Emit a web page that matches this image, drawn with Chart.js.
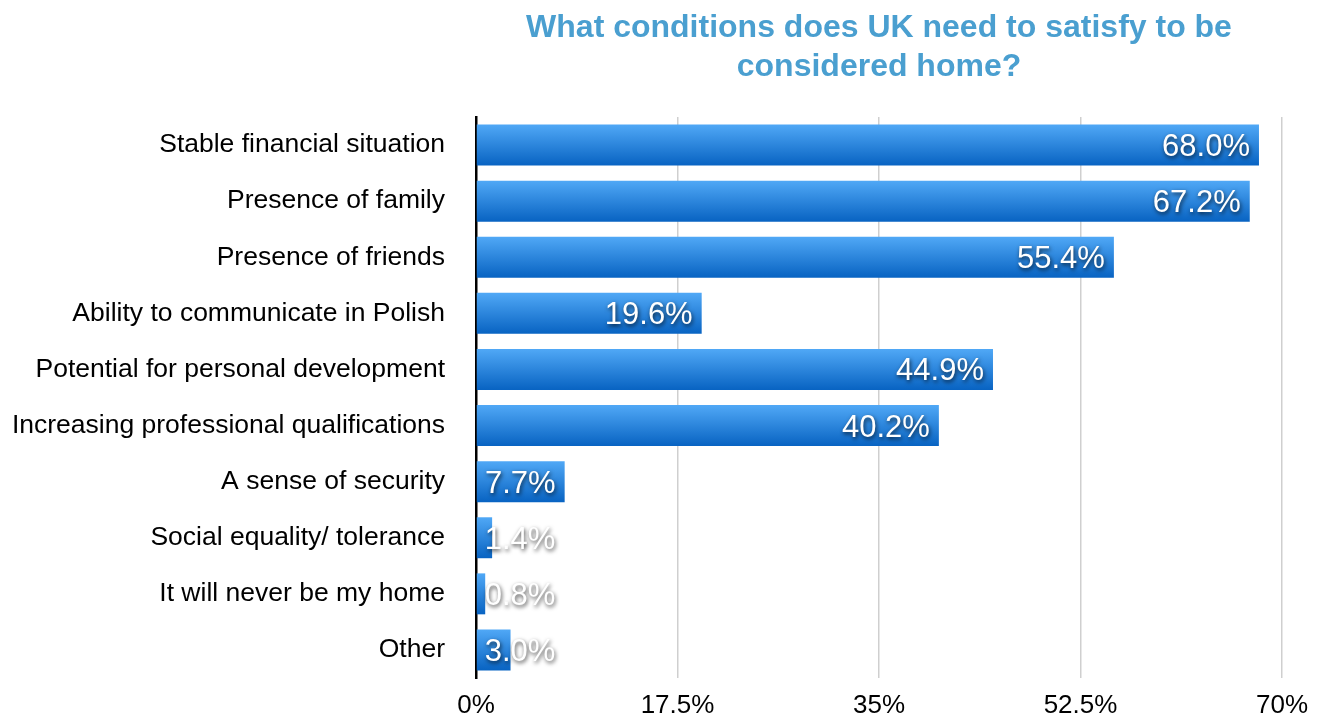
<!DOCTYPE html>
<html>
<head>
<meta charset="utf-8">
<title>UK as home</title>
<script src="https://cdn.jsdelivr.net/npm/chart.js@4/dist/chart.umd.min.js"></script>
<style>
  html, body { margin: 0; padding: 0; background: #fff; }
  #wrap { width: 1324px; height: 717px; }
</style>
</head>
<body>
<div id="wrap"><canvas id="myChart" width="1324" height="717"></canvas></div>
<script>
var categories = [
  'Stable financial situation',
  'Presence of family',
  'Presence of friends',
  'Ability to communicate in Polish',
  'Potential for personal development',
  'Increasing professional qualifications',
  'A sense of security',
  'Social equality/ tolerance',
  'It will never be my home',
  'Other'
];
var shares = [68.0, 67.2, 55.4, 19.6, 44.9, 40.2, 7.7, 1.4, 0.8, 3.0];
var axisMax = 70;
var axisStep = 17.5;
var titleLines = ['What conditions does UK need to satisfy to be', 'considered home?'];

var FONT = '"Liberation Sans", Arial, Helvetica, sans-serif';
var barPct = 0.73;

// vertical blue gradient for every bar, built from the bar's own band
function barFill(c) {
  var chart = c.chart;
  var y = chart.scales.y;
  if (!chart.chartArea || !y || c.dataIndex === undefined) return '#2a84dc';
  var mid = y.getPixelForValue(c.dataIndex);
  var half = (y.height / categories.length) * barPct / 2;
  var g = chart.ctx.createLinearGradient(0, mid - half, 0, mid + half);
  g.addColorStop(0, '#50a8f6');
  g.addColorStop(1, '#0863c2');
  return g;
}

// title centred over the plot area
var titlePlugin = {
  id: 'plotTitle',
  afterDraw: function(chart) {
    var ctx = chart.ctx, a = chart.chartArea;
    var cx = (a.left + a.right) / 2;
    ctx.save();
    ctx.font = 'bold 32px ' + FONT;
    ctx.fillStyle = '#4a9fd0';
    ctx.textAlign = 'center';
    ctx.textBaseline = 'middle';
    ctx.fillText(titleLines[0], cx, 28);
    ctx.fillText(titleLines[1], cx, 67);
    ctx.restore();
  }
};

// white percentage labels with a dark drop shadow
var valueLabels = {
  id: 'valueLabels',
  afterDatasetsDraw: function(chart) {
    var ctx = chart.ctx;
    var meta = chart.getDatasetMeta(0);
    ctx.save();
    ctx.font = '31px ' + FONT;
    ctx.fillStyle = '#fff';
    ctx.shadowColor = 'rgba(0,0,0,0.75)';
    ctx.shadowBlur = 4;
    ctx.shadowOffsetX = 1;
    ctx.shadowOffsetY = 2;
    ctx.textBaseline = 'alphabetic';
    meta.data.forEach(function(bar, i) {
      var txt = shares[i].toFixed(1) + '%';
      var w = ctx.measureText(txt).width;
      var base = bar.y + 11;
      if (bar.x - bar.base - 9 >= w + 7) {
        ctx.textAlign = 'right';
        ctx.fillText(txt, bar.x - 9, base);
      } else {
        ctx.textAlign = 'left';
        ctx.fillText(txt, bar.base + 8, base);
      }
    });
    ctx.restore();
  }
};

var myChart = document.getElementById('myChart').getContext('2d');

var chart = new Chart(myChart, {
  type: 'bar',
  data: {
    labels: categories,
    datasets: [{
      data: shares,
      backgroundColor: barFill,
      borderWidth: 0,
      categoryPercentage: 1,
      barPercentage: barPct
    }]
  },
  options: {
    indexAxis: 'y',
    responsive: false,
    animation: false,
    layout: { padding: { top: 117, right: 42, bottom: 0, left: 0 } },
    plugins: {
      legend: { display: false },
      title: { display: false },
      tooltip: { enabled: false }
    },
    scales: {
      x: {
        min: 0,
        max: axisMax,
        afterFit: function(s) { s.height = 39; },
        afterBuildTicks: function(s) {
          var t = [];
          for (var v = 0; v <= axisMax; v += axisStep) t.push({ value: v });
          s.ticks = t;
        },
        ticks: {
          color: '#000',
          font: { family: FONT, size: 26 },
          padding: 12,
          maxRotation: 0,
          callback: function(v) { return v + '%'; }
        },
        grid: {
          drawTicks: false,
          lineWidth: 1.5,
          color: function(c) { return c.index === 0 ? 'rgba(0,0,0,0)' : '#cfcfcf'; }
        },
        border: { display: false }
      },
      y: {
        afterFit: function(s) {
          s.width = 476;
          s.paddingTop = 0;
          s.paddingBottom = 0;
        },
        ticks: {
          color: '#000',
          font: { family: FONT, size: 26.5 },
          padding: 31
        },
        grid: { display: false, drawTicks: false },
        border: { display: true, color: '#000', width: 2.5 }
      }
    }
  },
  plugins: [titlePlugin, valueLabels]
});
</script>
</body>
</html>
